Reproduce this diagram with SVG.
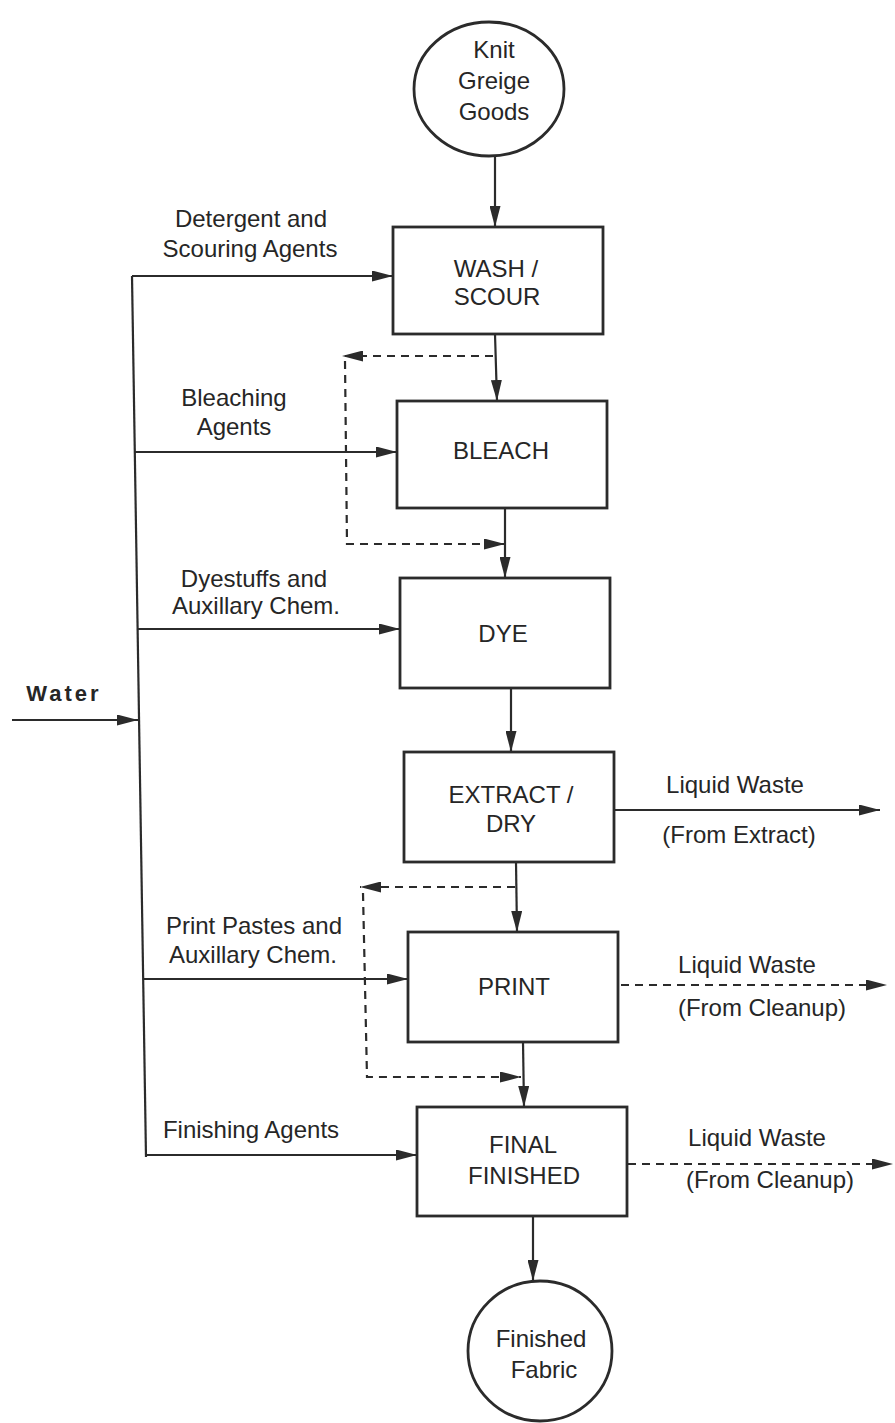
<svg xmlns="http://www.w3.org/2000/svg" width="895" height="1423" viewBox="0 0 895 1423">
<defs>
<marker id="ah" markerUnits="userSpaceOnUse" markerWidth="22" markerHeight="11" refX="21" refY="5.5" orient="auto">
<path d="M0,0 L21,5.5 L0,11 z" fill="#2b2b2b"/>
</marker>
<style>
.box{fill:#fff;stroke:#2b2b2b;stroke-width:2.8}
.ln{stroke:#2b2b2b;stroke-width:2.2;fill:none}
.dash{stroke-dasharray:8 6}
.arr{marker-end:url(#ah)}
.t{font-family:"Liberation Sans",Arial,Helvetica,sans-serif;font-size:24px;fill:#262626;text-anchor:middle}
.w{font-weight:bold;font-size:22px;letter-spacing:3px}
</style>
</defs>
<rect width="895" height="1423" fill="#fff"/>
<g id="connectors">
<path class="ln arr" d="M495,156 V227"/>
<path class="ln arr" d="M495,334 L497,401"/>
<path class="ln dash arr" d="M493,356 H342"/>
<path class="ln dash arr" d="M345,361 L347,544 H505"/>
<path class="ln arr" d="M505,508 V578"/>
<path class="ln arr" d="M511,688 V752"/>
<path class="ln arr" d="M516,862 L517,932"/>
<path class="ln dash arr" d="M515,887 H360"/>
<path class="ln dash arr" d="M363,893 L367,1077 H521"/>
<path class="ln arr" d="M523,1042 L524,1107"/>
<path class="ln arr" d="M533,1216 V1281"/>
<path class="ln" d="M132,276 L146,1157"/>
<path class="ln arr" d="M132,276 H393"/>
<path class="ln arr" d="M135,452 H397"/>
<path class="ln arr" d="M137,629 H400"/>
<path class="ln arr" d="M12,720 H138"/>
<path class="ln arr" d="M143,979 H408"/>
<path class="ln arr" d="M146,1155 H417"/>
<path class="ln arr" d="M614,810 H880"/>
<path class="ln dash arr" d="M621,985 H887"/>
<path class="ln dash arr" d="M628,1164 H893"/>
<g id="labels">
<text class="t" x="251" y="227">Detergent and</text>
<text class="t" x="250" y="257">Scouring Agents</text>
<text class="t" x="234" y="406">Bleaching</text>
<text class="t" x="234" y="435">Agents</text>
<text class="t" x="254" y="587">Dyestuffs and</text>
<text class="t" x="256" y="614">Auxillary Chem.</text>
<text class="t w" x="64" y="701">Water</text>
<text class="t" x="254" y="934">Print Pastes and</text>
<text class="t" x="253" y="963">Auxillary Chem.</text>
<text class="t" x="251" y="1138">Finishing Agents</text>
<text class="t" x="735" y="793">Liquid Waste</text>
<text class="t" x="739" y="843">(From Extract)</text>
<text class="t" x="747" y="973">Liquid Waste</text>
<text class="t" x="762" y="1016">(From Cleanup)</text>
<text class="t" x="757" y="1146">Liquid Waste</text>
<text class="t" x="770" y="1188">(From Cleanup)</text>
</g>
</g>
<g id="knit-greige-goods">
<ellipse class="box" cx="489" cy="89" rx="75" ry="67"/>
<text class="t" x="494" y="58">Knit</text>
<text class="t" x="494" y="89">Greige</text>
<text class="t" x="494" y="120">Goods</text>
</g>
<g id="wash-scour">
<rect class="box" x="393" y="227" width="210" height="107"/>
<text class="t" x="496" y="277">WASH /</text>
<text class="t" x="497" y="305">SCOUR</text>
</g>
<g id="bleach">
<rect class="box" x="397" y="401" width="210" height="107"/>
<text class="t" x="501" y="459">BLEACH</text>
</g>
<g id="dye">
<rect class="box" x="400" y="578" width="210" height="110"/>
<text class="t" x="503" y="642">DYE</text>
</g>
<g id="extract-dry">
<rect class="box" x="404" y="752" width="210" height="110"/>
<text class="t" x="511" y="803">EXTRACT /</text>
<text class="t" x="511" y="832">DRY</text>
</g>
<g id="print">
<rect class="box" x="408" y="932" width="210" height="110"/>
<text class="t" x="514" y="995">PRINT</text>
</g>
<g id="final-finished">
<rect class="box" x="417" y="1107" width="210" height="109"/>
<text class="t" x="523" y="1153">FINAL</text>
<text class="t" x="524" y="1184">FINISHED</text>
</g>
<g id="finished-fabric">
<ellipse class="box" cx="540" cy="1351" rx="72" ry="70"/>
<text class="t" x="541" y="1347">Finished</text>
<text class="t" x="544" y="1378">Fabric</text>
</g>
</svg>
